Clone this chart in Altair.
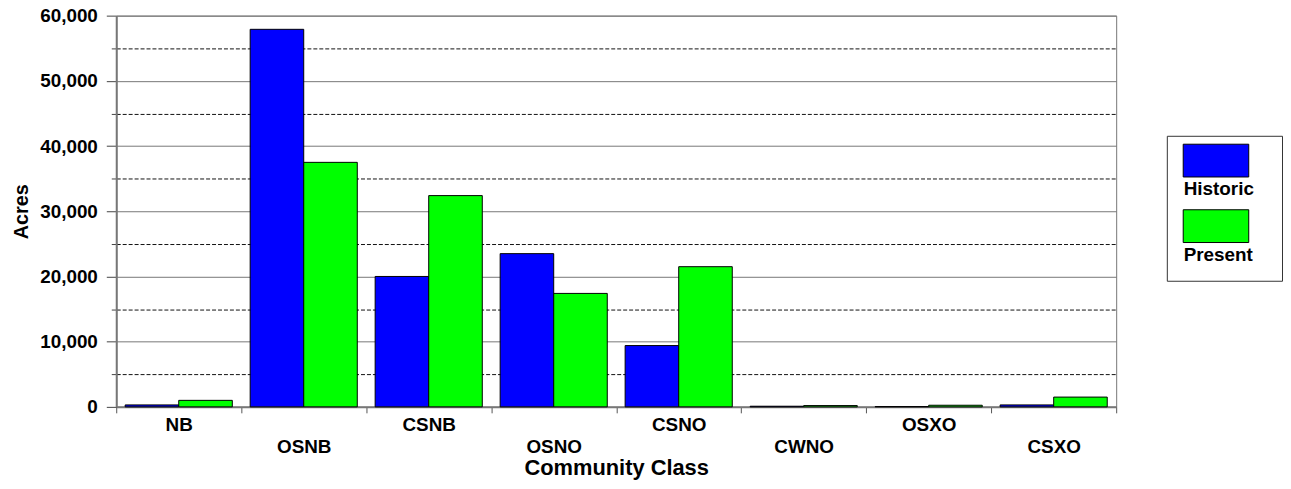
import altair as alt
import pandas as pd

classes = ["NB", "OSNB", "CSNB", "OSNO", "CSNO", "CWNO", "OSXO", "CSXO"]
historic = [300, 57900, 20000, 23500, 9400, 100, 50, 300]
present = [1000, 37500, 32400, 17400, 21500, 200, 250, 1500]
series = ["Historic", "Present"]
colors = ["#0000FF", "#00FF00"]
y_ticks = list(range(0, 60001, 5000))
lower_row = ["OSNB", "OSNO", "CWNO", "CSXO"]

rows = []
for c, h, p in zip(classes, historic, present):
    rows.append({"cls": c, "series": series[0], "acres": h})
    rows.append({"cls": c, "series": series[1], "acres": p})
df = pd.DataFrame(rows)

FONT = "Liberation Sans"
minor_test = "datum.value % 10000 != 0"
lower_test = "indexof(['" + "','".join(lower_row) + "'], datum.value) >= 0"

chart = alt.Chart(df).mark_bar(stroke="black", strokeWidth=1).encode(
    x=alt.X("cls:N", sort=classes, title="Community Class",
            scale=alt.Scale(paddingInner=0, paddingOuter=0),
            axis=alt.Axis(labelAngle=0, tickBand="extent", labelFontSize=19,
                          labelFont=FONT, labelFontWeight="bold", labelColor="black",
                          labelPadding={"condition": {"test": lower_test, "value": 24.5}, "value": 2.5},
                          tickSize=6, tickColor="#555", domainColor="#777", domainWidth=2,
                          titleFontSize=22, titleFont=FONT, titleFontWeight="bold",
                          titleColor="black", titlePadding=2, labelOverlap=False)),
    xOffset=alt.XOffset("series:N", sort=series,
                        scale=alt.Scale(paddingInner=0, paddingOuter=0.1667)),
    y=alt.Y("acres:Q", title="Acres",
            scale=alt.Scale(domain=[0, 60000], nice=False),
            axis=alt.Axis(values=y_ticks, format=",d",
                          labelExpr="datum.value % 10000 == 0 ? datum.label : ''",
                          labelFontSize=19, labelFont=FONT, labelFontWeight="bold",
                          labelColor="black", labelPadding=9,
                          tickSize={"condition": {"test": minor_test, "value": 5}, "value": 10},
                          tickColor="#444", domainColor="#777", domainWidth=2,
                          grid=True,
                          gridColor={"condition": {"test": minor_test, "value": "#111"}, "value": "#777"},
                          gridDash={"condition": {"test": minor_test, "value": [4, 2]}, "value": []},
                          gridWidth=1,
                          titleFontSize=20, titleFont=FONT, titleFontWeight="bold",
                          titleColor="black", titlePadding=8)),
    color=alt.Color("series:N", sort=series,
                    scale=alt.Scale(domain=series, range=colors),
                    legend=alt.Legend(title=None, orient="none", legendX=1058, legendY=121,
                                      symbolType="M-1,-1.281H1.316V-0.123H-1ZM1.83,0",
                                      symbolSize=3249,
                                      symbolStrokeColor="black", symbolStrokeWidth=1,
                                      labelOffset={"expr": "-57"}, labelBaseline="top",
                                      labelFontSize=19, labelFont=FONT,
                                      labelFontWeight="bold", labelColor="black",
                                      padding=16, strokeColor="#333", fillColor="white",
                                      rowPadding=8)),
).properties(
    width=1007, height=394,
    padding={"top": -3, "left": 3, "right": 0, "bottom": 5},
).configure_view(stroke="#777", strokeWidth=1)

chart.save("out.html", embed_options={"renderer": "svg", "actions": False})
